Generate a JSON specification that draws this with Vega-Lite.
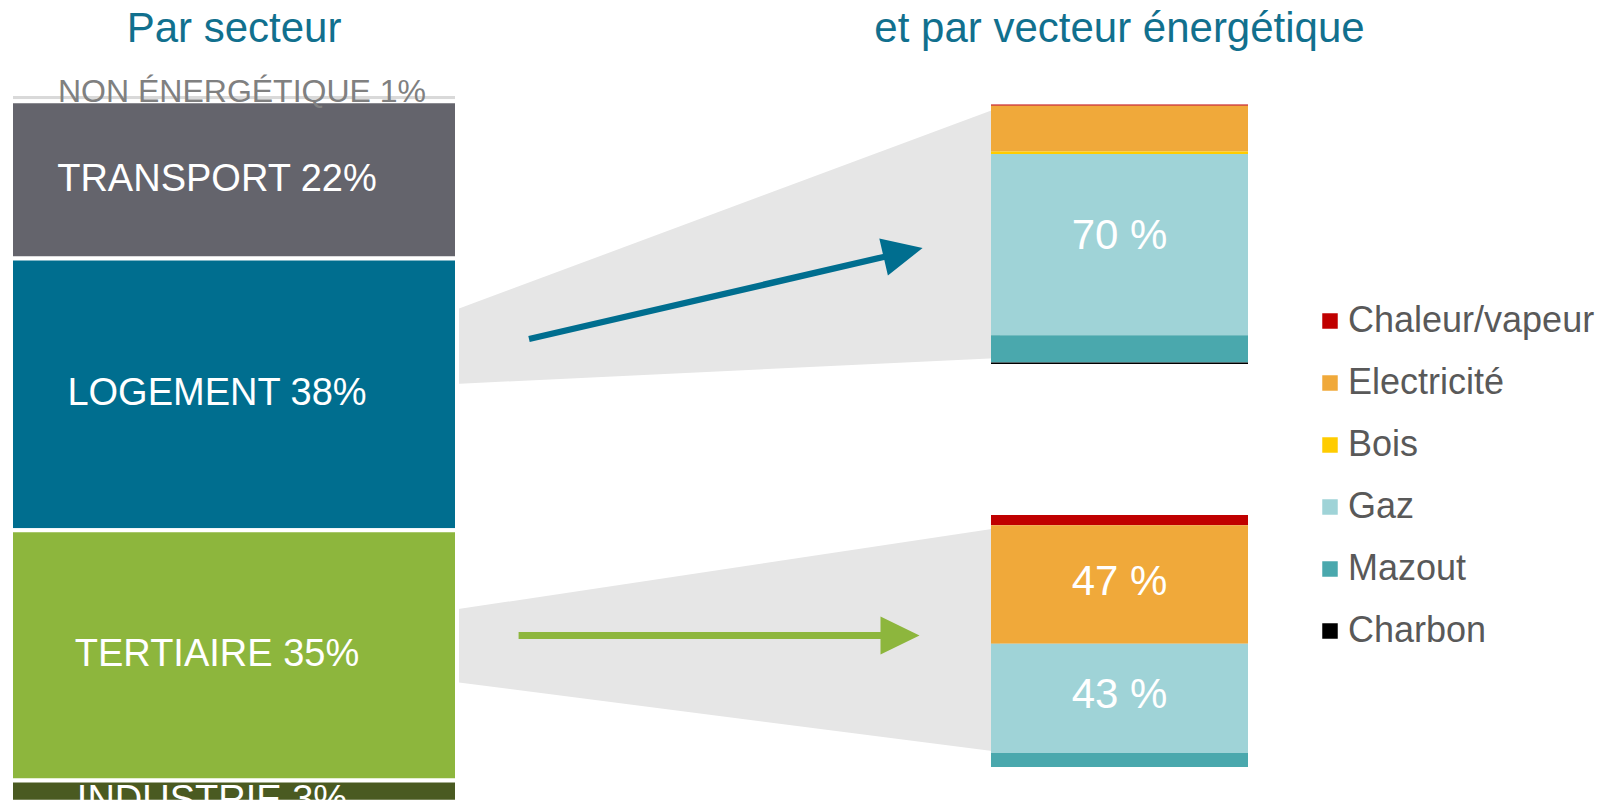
{
  "$schema": "https://vega.github.io/schema/vega-lite/v6.json",
  "width": 1620,
  "height": 802,
  "padding": 0,
  "autosize": {"type": "none"},
  "background": "white",
  "config": {"view": {"stroke": null}},
  "datasets": {
    "secteurs": [
      {"secteur": "Non énergétique", "part": 1},
      {"secteur": "Transport", "part": 22},
      {"secteur": "Logement", "part": 38},
      {"secteur": "Tertiaire", "part": 35},
      {"secteur": "Industrie", "part": 3}
    ],
    "vecteurs": [
      {"secteur": "Logement", "vecteur": "Chaleur/vapeur", "part": 0.5},
      {"secteur": "Logement", "vecteur": "Electricité", "part": 17.6},
      {"secteur": "Logement", "vecteur": "Bois", "part": 1.0},
      {"secteur": "Logement", "vecteur": "Gaz", "part": 69.8},
      {"secteur": "Logement", "vecteur": "Mazout", "part": 10.5},
      {"secteur": "Logement", "vecteur": "Charbon", "part": 0.6},
      {"secteur": "Tertiaire", "vecteur": "Chaleur/vapeur", "part": 4.1},
      {"secteur": "Tertiaire", "vecteur": "Electricité", "part": 47.0},
      {"secteur": "Tertiaire", "vecteur": "Bois", "part": 0},
      {"secteur": "Tertiaire", "vecteur": "Gaz", "part": 43.4},
      {"secteur": "Tertiaire", "vecteur": "Mazout", "part": 5.5},
      {"secteur": "Tertiaire", "vecteur": "Charbon", "part": 0}
    ],
    "panneaux": [
      {"panel": "Par secteur"},
      {"panel": "et par vecteur énergétique"}
    ]
  },
  "resolve": {"scale": {"y": "independent", "color": "independent"}},
  "layer": [
    {
      "data": {"name": "vecteurs"},
      "transform": [
        {"filter": "datum.secteur === 'Logement'"},
        {"window": [{"op": "row_number", "as": "rang"}]},
        {"stack": "part", "groupby": [], "sort": [{"field": "rang", "order": "ascending"}], "as": ["y0", "y1"]},
        {"calculate": "(datum.y0 + datum.y1) / 2", "as": "ymid"},
        {"calculate": "format(datum.part, '.0f') + ' %'", "as": "etiquette"}
      ],
      "layer": [
        {
          "transform": [{"filter": "datum.rang === 1"}],
          "mark": {"type": "point", "shape": "M-664.5,205.5L-119.5,2.8L-119.5,253.5L-664.5,279.5Z", "size": 4, "filled": true, "color": "#E6E6E6", "opacity": 1, "strokeWidth": 0},
          "encoding": {
            "x": {"datum": "et par vecteur énergétique", "type": "nominal", "scale": {"type": "point", "domain": ["Par secteur", "et par vecteur énergétique"], "range": [234, 1119.5], "padding": 0}, "axis": null},
            "y": {"datum": 0, "type": "quantitative", "axis": null}
          }
        },
        {
          "transform": [{"filter": "datum.rang === 1"}],
          "mark": {"type": "point", "shape": "M-589.8,237.6L-235.2,155.6L-231.6,171L-196.9,143.5L-240.2,134L-236.6,149.4L-591.2,231.4Z", "size": 4, "filled": true, "color": "#006E8F", "opacity": 1, "strokeWidth": 0},
          "encoding": {
            "x": {"datum": "et par vecteur énergétique", "type": "nominal", "scale": {"type": "point", "domain": ["Par secteur", "et par vecteur énergétique"], "range": [234, 1119.5], "padding": 0}, "axis": null},
            "y": {"datum": 0, "type": "quantitative", "axis": null}
          }
        },
        {
          "mark": {"type": "bar", "width": 257},
          "encoding": {
            "x": {"datum": "et par vecteur énergétique", "type": "nominal", "scale": {"type": "point", "domain": ["Par secteur", "et par vecteur énergétique"], "range": [234, 1119.5], "padding": 0}, "axis": null},
            "y": {"field": "y0", "type": "quantitative", "scale": {"domain": [-40.27, 268.8], "reverse": true, "nice": false, "zero": false}, "axis": null},
            "y2": {"field": "y1"},
            "color": {
              "field": "vecteur", "type": "nominal",
              "scale": {"domain": ["Chaleur/vapeur", "Electricité", "Bois", "Gaz", "Mazout", "Charbon"], "range": ["#C00000", "#F0A93A", "#FFCC00", "#9FD3D7", "#4AA8AD", "#000000"]},
              "legend": {"orient": "none", "legendX": 1312, "legendY": 303, "title": null, "symbolType": "square", "symbolSize": 240, "symbolStrokeWidth": 0, "symbolOpacity": 1, "labelFontSize": 36, "labelFont": "Liberation Sans", "labelColor": "#595959", "labelLimit": 400, "labelOffset": 0, "rowPadding": 26, "padding": 0}
            }
          }
        },
        {
          "transform": [{"filter": "datum.part > 30"}],
          "mark": {"type": "text", "font": "Liberation Sans", "fontSize": 42, "color": "white", "dy": -9},
          "encoding": {
            "x": {"datum": "et par vecteur énergétique", "type": "nominal", "scale": {"type": "point", "domain": ["Par secteur", "et par vecteur énergétique"], "range": [234, 1119.5], "padding": 0}, "axis": null},
            "y": {"field": "ymid", "type": "quantitative", "axis": null},
            "text": {"field": "etiquette"}
          }
        }
      ]
    },
    {
      "data": {"name": "vecteurs"},
      "transform": [
        {"filter": "datum.secteur === 'Tertiaire'"},
        {"window": [{"op": "row_number", "as": "rang"}]},
        {"stack": "part", "groupby": [], "sort": [{"field": "rang", "order": "ascending"}], "as": ["y0", "y1"]},
        {"calculate": "(datum.y0 + datum.y1) / 2", "as": "ymid"},
        {"calculate": "format(datum.part, '.0f') + ' %'", "as": "etiquette"}
      ],
      "layer": [
        {
          "transform": [{"filter": "datum.rang === 1"}],
          "mark": {"type": "point", "shape": "M-664.5,94.6L-119.5,12.8L-119.5,237L-664.5,167Z", "size": 4, "filled": true, "color": "#E6E6E6", "opacity": 1, "strokeWidth": 0},
          "encoding": {
            "x": {"datum": "et par vecteur énergétique", "type": "nominal", "scale": {"type": "point", "domain": ["Par secteur", "et par vecteur énergétique"], "range": [234, 1119.5], "padding": 0}, "axis": null},
            "y": {"datum": 0, "type": "quantitative", "axis": null}
          }
        },
        {
          "transform": [{"filter": "datum.rang === 1"}],
          "mark": {"type": "point", "shape": "M-600.9,116.9L-239,116.9L-239,101.4L-200,120.4L-239,139.4L-239,123.9L-600.9,123.9Z", "size": 4, "filled": true, "color": "#8DB63D", "opacity": 1, "strokeWidth": 0},
          "encoding": {
            "x": {"datum": "et par vecteur énergétique", "type": "nominal", "scale": {"type": "point", "domain": ["Par secteur", "et par vecteur énergétique"], "range": [234, 1119.5], "padding": 0}, "axis": null},
            "y": {"datum": 0, "type": "quantitative", "axis": null}
          }
        },
        {
          "mark": {"type": "bar", "width": 257},
          "encoding": {
            "x": {"datum": "et par vecteur énergétique", "type": "nominal", "scale": {"type": "point", "domain": ["Par secteur", "et par vecteur énergétique"], "range": [234, 1119.5], "padding": 0}, "axis": null},
            "y": {"field": "y0", "type": "quantitative", "scale": {"domain": [-204.4, 113.9], "reverse": true, "nice": false, "zero": false}, "axis": null},
            "y2": {"field": "y1"},
            "color": {
              "field": "vecteur", "type": "nominal",
              "scale": {"domain": ["Chaleur/vapeur", "Electricité", "Bois", "Gaz", "Mazout", "Charbon"], "range": ["#C00000", "#F0A93A", "#FFCC00", "#9FD3D7", "#4AA8AD", "#000000"]},
              "legend": null
            }
          }
        },
        {
          "transform": [{"filter": "datum.part > 30"}],
          "mark": {"type": "text", "font": "Liberation Sans", "fontSize": 42, "color": "white", "dy": -3},
          "encoding": {
            "x": {"datum": "et par vecteur énergétique", "type": "nominal", "scale": {"type": "point", "domain": ["Par secteur", "et par vecteur énergétique"], "range": [234, 1119.5], "padding": 0}, "axis": null},
            "y": {"field": "ymid", "type": "quantitative", "axis": null},
            "text": {"field": "etiquette"}
          }
        }
      ]
    },
    {
      "data": {"name": "secteurs"},
      "transform": [
        {"window": [{"op": "row_number", "as": "rang"}]},
        {"stack": "part", "groupby": [], "sort": [{"field": "rang", "order": "ascending"}], "as": ["y0", "y1"]},
        {"calculate": "(datum.y0 + datum.y1) / 2", "as": "ymid"},
        {"calculate": "upper(datum.secteur) + ' ' + datum.part + '%'", "as": "etiquette"}
      ],
      "layer": [
        {
          "mark": {"type": "bar", "width": 446, "stroke": "white", "strokeWidth": 4},
          "encoding": {
            "x": {"datum": "Par secteur", "type": "nominal", "scale": {"type": "point", "domain": ["Par secteur", "et par vecteur énergétique"], "range": [234, 1119.5], "padding": 0}, "axis": null},
            "y": {"field": "y0", "type": "quantitative", "scale": {"domain": [-13.15, 99.02], "reverse": true, "nice": false, "zero": false}, "axis": null},
            "y2": {"field": "y1"},
            "color": {
              "field": "secteur", "type": "nominal",
              "scale": {"domain": ["Non énergétique", "Transport", "Logement", "Tertiaire", "Industrie"], "range": ["#D9D9D9", "#64646C", "#006E8F", "#8DB63D", "#4A5A21"]},
              "legend": null
            }
          }
        },
        {
          "transform": [{"filter": "datum.secteur === 'Transport' || datum.secteur === 'Logement' || datum.secteur === 'Tertiaire'"}],
          "mark": {"type": "text", "font": "Liberation Sans", "fontSize": 38, "color": "white", "dx": -17},
          "encoding": {
            "x": {"datum": "Par secteur", "type": "nominal", "scale": {"type": "point", "domain": ["Par secteur", "et par vecteur énergétique"], "range": [234, 1119.5], "padding": 0}, "axis": null},
            "y": {"field": "ymid", "type": "quantitative", "axis": null},
            "text": {"field": "etiquette"}
          }
        },
        {
          "transform": [{"filter": "datum.secteur === 'Industrie'"}],
          "mark": {"type": "text", "font": "Liberation Sans", "fontSize": 38, "color": "white", "dx": -22, "dy": 10},
          "encoding": {
            "x": {"datum": "Par secteur", "type": "nominal", "scale": {"type": "point", "domain": ["Par secteur", "et par vecteur énergétique"], "range": [234, 1119.5], "padding": 0}, "axis": null},
            "y": {"field": "ymid", "type": "quantitative", "axis": null},
            "text": {"field": "etiquette"}
          }
        },
        {
          "transform": [{"filter": "datum.secteur === 'Non énergétique'"}],
          "mark": {"type": "text", "font": "Liberation Sans", "fontSize": 32, "color": "#808080", "dx": 8, "dy": -6},
          "encoding": {
            "x": {"datum": "Par secteur", "type": "nominal", "scale": {"type": "point", "domain": ["Par secteur", "et par vecteur énergétique"], "range": [234, 1119.5], "padding": 0}, "axis": null},
            "y": {"field": "ymid", "type": "quantitative", "axis": null},
            "text": {"field": "etiquette"}
          }
        },
        {
          "data": {"name": "panneaux"},
          "mark": {"type": "text", "font": "Liberation Sans", "fontSize": 42, "color": "#11708E"},
          "encoding": {
            "x": {"field": "panel", "type": "nominal", "scale": {"type": "point", "domain": ["Par secteur", "et par vecteur énergétique"], "range": [234, 1119.5], "padding": 0}, "axis": null},
            "y": {"datum": -9.09, "type": "quantitative", "axis": null},
            "text": {"field": "panel"}
          }
        }
      ]
    }
  ]
}
